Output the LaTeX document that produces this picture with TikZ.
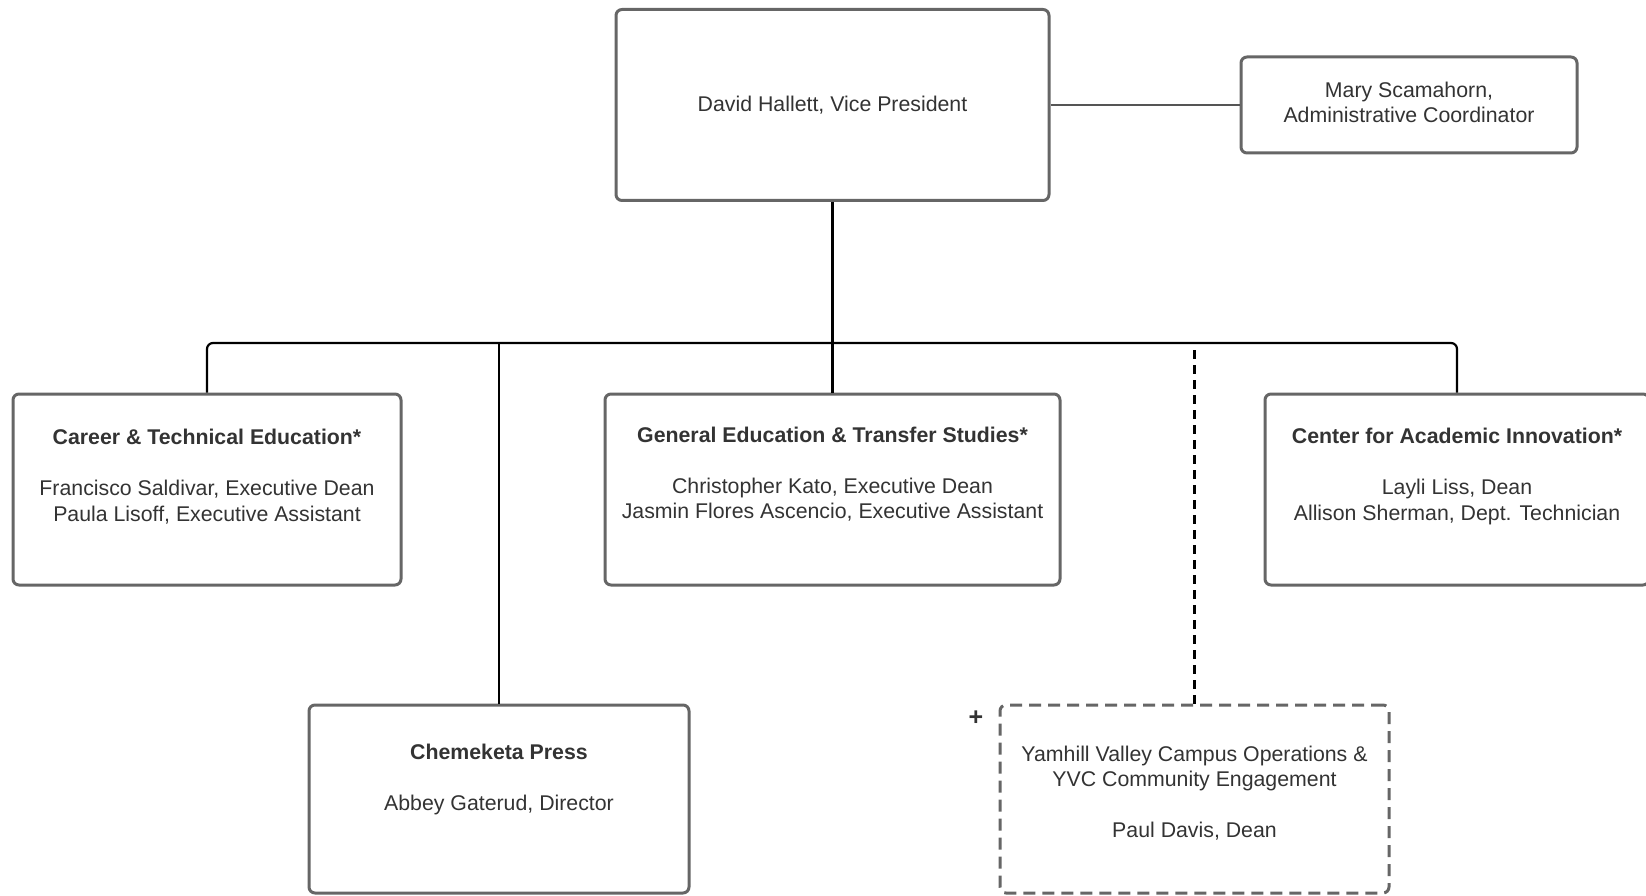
\documentclass[tikz,border=0pt]{standalone}
\usepackage{fontspec}
\setmainfont{Liberation Sans}
\definecolor{boxgray}{HTML}{666666}
\definecolor{txt}{HTML}{333333}
\definecolor{linkgray}{HTML}{555555}
\begin{document}
\begin{tikzpicture}[x=1pt,y=-1pt,
  box/.style={draw=boxgray, line width=3pt, rounded corners=6pt, inner sep=0pt, fill=white},
  dbox/.style={box, dash pattern=on 12pt off 7pt},
  lbl/.style={text=txt, align=center, inner sep=0pt, font=\fontsize{21.3}{25.5}\selectfont},
  conn/.style={draw=black, line width=2.2pt},
  dconn/.style={conn, dash pattern=on 9pt off 6pt}
]
\useasboundingbox (0,0) rectangle (1646,896);

% boxes
\node[box, minimum width=433, minimum height=191] (top) at (832.5,105) {};
\node[box, minimum width=336, minimum height=96] (mary) at (1409,105) {};
\node[box, minimum width=388, minimum height=191] (cte) at (207,489.5) {};
\node[box, minimum width=455, minimum height=191] (gets) at (832.5,489.5) {};
\node[box, minimum width=384, minimum height=191] (cai) at (1457,489.5) {};
\node[box, minimum width=380, minimum height=188] (cp) at (499,799) {};
\node[dbox, minimum width=389, minimum height=188] (yvc) at (1194.5,799) {};

% texts
\node[lbl] (topT) at (832.5,105) {David Hallett, Vice President};
\node[lbl] (maryT) at (1409,102.5) {Mary Scamahorn,\\Administrative Coordinator};
\node[lbl] (cteT) at (207,476.5) {\textbf{Career \& Technical Education*}\\[25.5pt]Francisco Saldivar, Executive Dean\\Paula Lisoff, Executive Assistant};
\node[lbl] (getsT) at (832.5,474) {\textbf{General Education \& Transfer Studies*}\\[25.5pt]Christopher Kato, Executive Dean\\Jasmin Flores Ascencio, Executive Assistant};
\node[lbl] (caiT) at (1457,476.5) {\textbf{Center for Academic Innovation*}\\[25.5pt]Layli Liss, Dean\\Allison Sherman, Dept. Technician};
\node[lbl] (cpT) at (499,779.5) {\textbf{Chemeketa Press}\\[25.5pt]Abbey Gaterud, Director};
\node[lbl] (yvcT) at (1194.5,793) {Yamhill Valley Campus Operations \&\\YVC Community Engagement\\[25.5pt]Paul Davis, Dean};
\node[lbl, font=\fontsize{25}{25}\selectfont\bfseries] (plus) at (976,718) {+};

% connectors
\coordinate (bus) at (832.5,343);
\draw[draw=linkgray, line width=2pt] (top.east) -- (mary.west);
\draw[conn] (top.south) -- (gets.north);
\draw[conn, rounded corners=6pt] (cte.north) |- (bus) -| (cai.north);
\draw[conn] (cp.north) -- (cp.north |- bus);
\draw[dconn] (yvc.north) -- (yvc.north |- bus);
\end{tikzpicture}
\end{document}
